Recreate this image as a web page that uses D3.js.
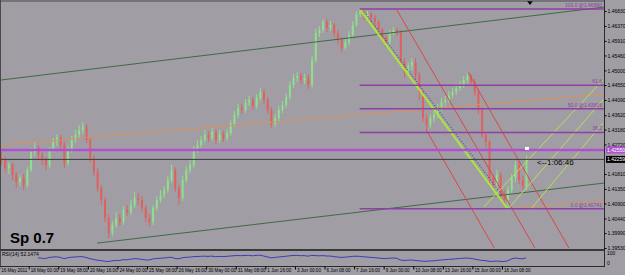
<!DOCTYPE html>
<html>
<head>
<meta charset="utf-8">
<script src="https://cdn.jsdelivr.net/npm/d3@7/dist/d3.min.js"></script>
<style>
  body { margin: 0; background: #a09da5; }
  svg { display: block; }
  text { font-family: "Liberation Sans", Arial, sans-serif; }
</style>
</head>
<body>
<div id="chart"></div>
<script>
// time scale labels, one every 8 H4 bars
var timeLabels = ["16 May 2011", "18 May 00:00", "19 May 08:00", "20 May 16:00", "24 May 00:00",
  "25 May 08:00", "26 May 16:00", "30 May 00:00", "31 May 08:00", "1 Jun 16:00", "3 Jun 00:00",
  "6 Jun 08:00", "7 Jun 16:00", "9 Jun 00:00", "10 Jun 08:00", "13 Jun 16:00", "15 Jun 00:00",
  "16 Jun 08:00"];

var priceTicks = [1.46830, 1.46370, 1.45910, 1.45460, 1.45000, 1.44550, 1.44090, 1.43620,
  1.43180, 1.42720, 1.41810, 1.41350, 1.40900, 1.40440, 1.39990, 1.39530];

// EURUSD H4 bars (open = previous close)
var firstOpen = 1.4230;
var closes = [
  1.4224, 1.4199, 1.4209, 1.4178, 1.4156, 1.4169, 1.4147, 1.4193, 1.4249, 1.4261,
  1.4239, 1.4224, 1.4209, 1.4255, 1.4280, 1.4292, 1.4270, 1.4215, 1.4255, 1.4286,
  1.4301, 1.4316, 1.4326, 1.4286, 1.4230, 1.4187, 1.4138, 1.4101, 1.4045, 1.3999,
  1.4024, 1.4045, 1.4033, 1.4070, 1.4064, 1.4085, 1.4107, 1.4101, 1.4076, 1.4045,
  1.4033, 1.4076, 1.4101, 1.4116, 1.4132, 1.4162, 1.4193, 1.4138, 1.4107, 1.4162,
  1.4193, 1.4209, 1.4255, 1.4270, 1.4286, 1.4301, 1.4292, 1.4310, 1.4286, 1.4304,
  1.4292, 1.4307, 1.4335, 1.4363, 1.4384, 1.4378, 1.4400, 1.4409, 1.4390, 1.4415,
  1.4434, 1.4409, 1.4378, 1.4335, 1.4353, 1.4378, 1.4393, 1.4418, 1.4455, 1.4477,
  1.4483, 1.4470, 1.4477, 1.4455, 1.4532, 1.4615, 1.4625, 1.4649, 1.4631, 1.4640,
  1.4615, 1.4594, 1.4569, 1.4587, 1.4609, 1.4640, 1.4674, 1.4680, 1.4668, 1.4674,
  1.4661, 1.4649, 1.4625, 1.4600, 1.4587, 1.4615, 1.4625, 1.4618, 1.4526, 1.4495,
  1.4514, 1.4526, 1.4486, 1.4434, 1.4353, 1.4332, 1.4353, 1.4363, 1.4384, 1.4403,
  1.4409, 1.4424, 1.4434, 1.4446, 1.4455, 1.4470, 1.4483, 1.4464, 1.4434, 1.4378,
  1.4301, 1.4280, 1.4169, 1.4147, 1.4178, 1.4116, 1.4101, 1.4132, 1.4169, 1.4209,
  1.4162, 1.4144, 1.42259];
var highs = [
  1.4249, 1.4236, 1.4218, 1.4215, 1.4187, 1.4178, 1.4181, 1.4202, 1.4261, 1.4280,
  1.4270, 1.4249, 1.4233, 1.4264, 1.4292, 1.4304, 1.4301, 1.4280, 1.4267, 1.4298,
  1.4316, 1.4332, 1.4341, 1.4335, 1.4295, 1.4239, 1.4199, 1.4147, 1.4110, 1.4055,
  1.4036, 1.4064, 1.4058, 1.4082, 1.4085, 1.4101, 1.4126, 1.4122, 1.4113, 1.4085,
  1.4058, 1.4085, 1.4113, 1.4132, 1.4144, 1.4175, 1.4209, 1.4202, 1.4147, 1.4175,
  1.4206, 1.4224, 1.4267, 1.4286, 1.4298, 1.4316, 1.4313, 1.4323, 1.4319, 1.4316,
  1.4313, 1.4319, 1.4347, 1.4375, 1.4397, 1.4397, 1.4412, 1.4421, 1.4418, 1.4427,
  1.4446, 1.4443, 1.4418, 1.4387, 1.4366, 1.4390, 1.4406, 1.4430, 1.4467, 1.4489,
  1.4495, 1.4492, 1.4489, 1.4486, 1.4544, 1.4628, 1.4637, 1.4658, 1.4658, 1.4652,
  1.4646, 1.4625, 1.4603, 1.4600, 1.4621, 1.4652, 1.4683, 1.4689, 1.4686, 1.4683,
  1.4680, 1.4671, 1.4655, 1.4631, 1.4609, 1.4625, 1.4634, 1.4631, 1.4625, 1.4538,
  1.4526, 1.4538, 1.4538, 1.4495, 1.4440, 1.4366, 1.4363, 1.4375, 1.4397, 1.4415,
  1.4421, 1.4437, 1.4446, 1.4458, 1.4467, 1.4483, 1.4495, 1.4489, 1.4474, 1.4443,
  1.4387, 1.4310, 1.4286, 1.4181, 1.4193, 1.4187, 1.4132, 1.4144, 1.4181, 1.4221,
  1.4218, 1.4175, 1.4239];
var lows = [
  1.4209, 1.4187, 1.4181, 1.4162, 1.4138, 1.4144, 1.4132, 1.4138, 1.4187, 1.4236,
  1.4224, 1.4209, 1.4193, 1.4199, 1.4249, 1.4267, 1.4255, 1.4199, 1.4206, 1.4246,
  1.4276, 1.4292, 1.4304, 1.4276, 1.4218, 1.4175, 1.4126, 1.4085, 1.4033, 1.3984,
  1.3990, 1.4015, 1.4021, 1.4024, 1.4052, 1.4055, 1.4076, 1.4085, 1.4064, 1.4033,
  1.4018, 1.4024, 1.4067, 1.4092, 1.4107, 1.4122, 1.4153, 1.4126, 1.4085, 1.4098,
  1.4153, 1.4184, 1.4199, 1.4246, 1.4261, 1.4276, 1.4280, 1.4283, 1.4273, 1.4276,
  1.4280, 1.4283, 1.4298, 1.4326, 1.4353, 1.4366, 1.4369, 1.4390, 1.4378, 1.4381,
  1.4406, 1.4397, 1.4366, 1.4323, 1.4326, 1.4344, 1.4369, 1.4384, 1.4409, 1.4446,
  1.4464, 1.4458, 1.4458, 1.4443, 1.4446, 1.4523, 1.4603, 1.4615, 1.4618, 1.4621,
  1.4603, 1.4581, 1.4557, 1.4563, 1.4578, 1.4600, 1.4634, 1.4665, 1.4655, 1.4658,
  1.4649, 1.4637, 1.4612, 1.4587, 1.4572, 1.4578, 1.4609, 1.4606, 1.4514, 1.4477,
  1.4486, 1.4501, 1.4470, 1.4409, 1.4341, 1.4316, 1.4323, 1.4341, 1.4353, 1.4375,
  1.4390, 1.4400, 1.4415, 1.4424, 1.4437, 1.4446, 1.4461, 1.4452, 1.4421, 1.4366,
  1.4292, 1.4261, 1.4153, 1.4132, 1.4135, 1.4104, 1.4085, 1.4074, 1.4122, 1.4156,
  1.4150, 1.4132, 1.4132];

// RSI(14), starting at bar 10
var rsiFirstBar = 10;
var rsi = [
  52, 48, 45, 55, 60, 62, 56, 44, 52, 58, 60, 63, 64, 55, 44, 36, 28, 24, 18, 14,
  22, 26, 25, 33, 32, 38, 43, 42, 37, 31, 30, 40, 45, 47, 50, 54, 58, 46, 42, 52,
  57, 58, 64, 65, 67, 68, 66, 69, 63, 66, 64, 66, 70, 73, 75, 73, 76, 77, 72, 76,
  78, 70, 62, 52, 55, 60, 63, 67, 72, 75, 76, 73, 74, 68, 76, 74, 72, 74, 70, 70,
  64, 60, 56, 58, 62, 66, 68, 66, 62, 60, 56, 54, 50, 46, 44, 48, 50, 48, 30, 26,
  28, 30, 26, 22, 18, 17, 20, 22, 26, 30, 33, 36, 38, 42, 45, 48, 50, 46, 40, 33,
  26, 24, 17, 16, 20, 16, 15, 22, 40, 50, 45, 42, 52];

var bidPrice = 1.42259;
var alertPrice = 1.42550;

// fibonacci retracement from the 7 Jun top to the 16 Jun low
var fibHigh = 1.46890, fibLow = 1.40741, fibStartBar = 97;
var fibLevels = [100, 61.8, 50, 38.2, 0];
var fibTexts = ["100.0 @1.46890", "61.8", "50.0 @1.43816", "38.2", "0.0 @1.40741"];

// trend lines: [bar1, price1, bar2, price2]
var greenLines = [[-0.3, 1.4470, 163.1, 1.4695], [26, 1.3968, 163.1, 1.4153]];
var orangeLines = [[-0.3, 1.4270, 163.1, 1.4427], [137, 1.4074, 163.1, 1.4098]];
var redLines = [[107.1, 1.4686, 144.4, 1.3953], [126.3, 1.4495, 153.6, 1.3953], [115, 1.4317, 133.4, 1.3953]];
var limeLines = [[130.6, 1.4079, 162.8, 1.4470], [136.9, 1.4070, 162.8, 1.4409], [143.1, 1.4070, 162.8, 1.4338]];
var swingLine = [97, 1.4689, 137, 1.4074];
var dotLine = [98.7, 1.4674, 135.5, 1.4116];

var width = 625, height = 275;
var plotRight = 604, plotTop = 2, plotBottom = 249;

var svg = d3.select("#chart").append("svg")
    .attr("width", width)
    .attr("height", height);

var x = d3.scaleLinear().domain([0, 142]).range([1, 526]);
var y = d3.scaleLinear().domain([1.39530, 1.46830]).range([248, 11]);
var yr = d3.scaleLinear().domain([0, 100]).range([263, 253]);

svg.append("clipPath").attr("id", "plotclip")
  .append("rect").attr("x", 1).attr("y", plotTop)
  .attr("width", plotRight - 1).attr("height", plotBottom - plotTop);

var plot = svg.append("g").attr("clip-path", "url(#plotclip)");

// candles
var bars = closes.map(function (c, i) {
  return { i: i, o: i ? closes[i - 1] : firstOpen, c: c, h: highs[i], l: lows[i] };
});
var upCol = "#8fe08a", downCol = "#e0605e";

plot.selectAll("line.wick")
  .data(bars).enter().append("line")
  .attr("class", "wick")
  .attr("x1", function (d) { return x(d.i) + 0.5; })
  .attr("x2", function (d) { return x(d.i) + 0.5; })
  .attr("y1", function (d) { return y(d.h); })
  .attr("y2", function (d) { return y(d.l); })
  .attr("stroke", function (d) { return d.c >= d.o ? upCol : downCol; })
  .attr("stroke-width", 1);

plot.selectAll("rect.body")
  .data(bars).enter().append("rect")
  .attr("class", "body")
  .attr("x", function (d) { return x(d.i) - 0.5; })
  .attr("width", 2)
  .attr("y", function (d) { return y(Math.max(d.o, d.c)); })
  .attr("height", function (d) { return Math.max(1, Math.abs(y(d.o) - y(d.c))); })
  .attr("fill", function (d) { return d.c >= d.o ? upCol : downCol; });

function drawLines(data, color, w, dash) {
  plot.selectAll(null)
    .data(data).enter().append("line")
    .attr("x1", function (d) { return x(d[0]); })
    .attr("y1", function (d) { return y(d[1]); })
    .attr("x2", function (d) { return x(d[2]); })
    .attr("y2", function (d) { return y(d[3]); })
    .attr("stroke", color)
    .attr("stroke-width", w)
    .attr("stroke-dasharray", dash || null);
}

drawLines(greenLines, "#3d6b45", 1);
drawLines(orangeLines, "#d8925e", 1);
drawLines(redLines, "#d84848", 1);
drawLines(limeLines, "#b5e05a", 1);
drawLines([dotLine], "#2b2b9a", 1, "1 2");
drawLines([swingLine], "#a8e63c", 2);

// fibonacci levels
var fibCol = "#8f3fa6";
var fib = fibLevels.map(function (lv, k) {
  return { p: fibLow + (fibHigh - fibLow) * lv / 100, t: fibTexts[k] };
});
plot.selectAll("line.fib")
  .data(fib).enter().append("line")
  .attr("class", "fib")
  .attr("x1", x(fibStartBar)).attr("x2", plotRight)
  .attr("y1", function (d) { return y(d.p); })
  .attr("y2", function (d) { return y(d.p); })
  .attr("stroke", fibCol).attr("stroke-width", 1.5);
plot.selectAll("text.fib")
  .data(fib).enter().append("text")
  .attr("class", "fib")
  .attr("x", plotRight - 2)
  .attr("y", function (d) { return y(d.p) - 2; })
  .attr("text-anchor", "end")
  .attr("font-size", 5)
  .attr("fill", fibCol)
  .text(function (d) { return d.t; });

// alert line and bid line
plot.append("line")
  .attr("x1", 1).attr("x2", plotRight)
  .attr("y1", y(alertPrice)).attr("y2", y(alertPrice))
  .attr("stroke", "#b04fd2").attr("stroke-width", 2.5);
plot.append("line")
  .attr("x1", 1).attr("x2", plotRight)
  .attr("y1", y(bidPrice)).attr("y2", y(bidPrice))
  .attr("stroke", "#3c3c3c").attr("stroke-width", 1);

// small white marker and countdown
plot.append("rect")
  .attr("x", x(142) - 1).attr("y", y(alertPrice) - 3)
  .attr("width", 4).attr("height", 3).attr("fill", "#ffffff");
svg.append("text")
  .attr("x", 537).attr("y", y(bidPrice) + 6)
  .attr("font-size", 8).attr("fill", "#000")
  .text("<--1:06:46");

svg.append("text")
  .attr("x", 10).attr("y", 243)
  .attr("font-size", 15).attr("font-weight", "bold").attr("fill", "#000")
  .text("Sp 0.7");

// shift marker
svg.append("path")
  .attr("d", "M527,1 L533,1 L530,5 Z")
  .attr("fill", "#000");

// frame
svg.append("line").attr("x1", 0.5).attr("x2", 0.5).attr("y1", 0).attr("y2", 267)
  .attr("stroke", "#4a4a4a");
svg.append("line").attr("x1", 0).attr("x2", plotRight).attr("y1", 1).attr("y2", 1)
  .attr("stroke", "#4a4a4a");
svg.append("line").attr("x1", 0).attr("x2", plotRight).attr("y1", 250).attr("y2", 250)
  .attr("stroke", "#3a3a3a").attr("stroke-width", 2);
svg.append("line").attr("x1", plotRight + 0.5).attr("x2", plotRight + 0.5).attr("y1", 0).attr("y2", 267)
  .attr("stroke", "#2a2a2a");

// price axis
var yAxis = svg.append("g")
  .attr("transform", "translate(" + (plotRight + 0.5) + ",0)")
  .call(d3.axisRight(y).tickValues(priceTicks).tickSize(2).tickPadding(1)
    .tickFormat(d3.format(".5f")));
yAxis.select(".domain").remove();
yAxis.selectAll("text").attr("font-size", 5).attr("fill", "#000").attr("font-family", "Liberation Sans, Arial");
yAxis.selectAll("line").attr("stroke", "#000");

// price boxes
var boxes = [{ p: alertPrice, fill: "#b04fd2" }, { p: bidPrice, fill: "#000" }];
svg.selectAll("rect.pbox")
  .data(boxes).enter().append("rect")
  .attr("class", "pbox")
  .attr("x", plotRight + 2).attr("width", 19)
  .attr("y", function (d) { return y(d.p) - 3.5; })
  .attr("height", 7)
  .attr("fill", function (d) { return d.fill; });
svg.selectAll("text.pbox")
  .data(boxes).enter().append("text")
  .attr("class", "pbox")
  .attr("x", plotRight + 3)
  .attr("y", function (d) { return y(d.p) + 2; })
  .attr("font-size", 5).attr("fill", "#fff")
  .text(function (d) { return d3.format(".5f")(d.p); });

// RSI window
var rsiLine = d3.line()
  .x(function (d, i) { return x(i + rsiFirstBar); })
  .y(function (d) { return yr(d); });
svg.append("path")
  .datum(rsi)
  .attr("d", rsiLine)
  .attr("fill", "none")
  .attr("stroke", "#3b3bb8")
  .attr("stroke-width", 1);
svg.append("text")
  .attr("x", 2).attr("y", 256)
  .attr("font-size", 5).attr("fill", "#000")
  .text("RSI(14) 52.1474");
svg.selectAll("text.rsiscale")
  .data([100, 0]).enter().append("text")
  .attr("class", "rsiscale")
  .attr("x", plotRight + 3)
  .attr("y", function (d) { return yr(d) + 2; })
  .attr("font-size", 5).attr("fill", "#000")
  .text(function (d) { return d; });

// time axis
var xAxis = svg.append("g")
  .attr("transform", "translate(0,266.5)")
  .call(d3.axisBottom(x)
    .tickValues(timeLabels.map(function (d, k) { return 8 * k - 0.5; }))
    .tickSize(3)
    .tickFormat(function (d, k) { return timeLabels[k]; }));
xAxis.select(".domain").attr("stroke", "#2a2a2a").attr("d", "M0,0H" + (plotRight + 1));
xAxis.selectAll("line").attr("stroke", "#000");
xAxis.selectAll("text")
  .attr("text-anchor", "start")
  .attr("x", 1.5).attr("y", 2.5)
  .attr("font-size", 4.6).attr("fill", "#000")
  .attr("font-family", "Liberation Sans, Arial");
</script>
</body>
</html>
